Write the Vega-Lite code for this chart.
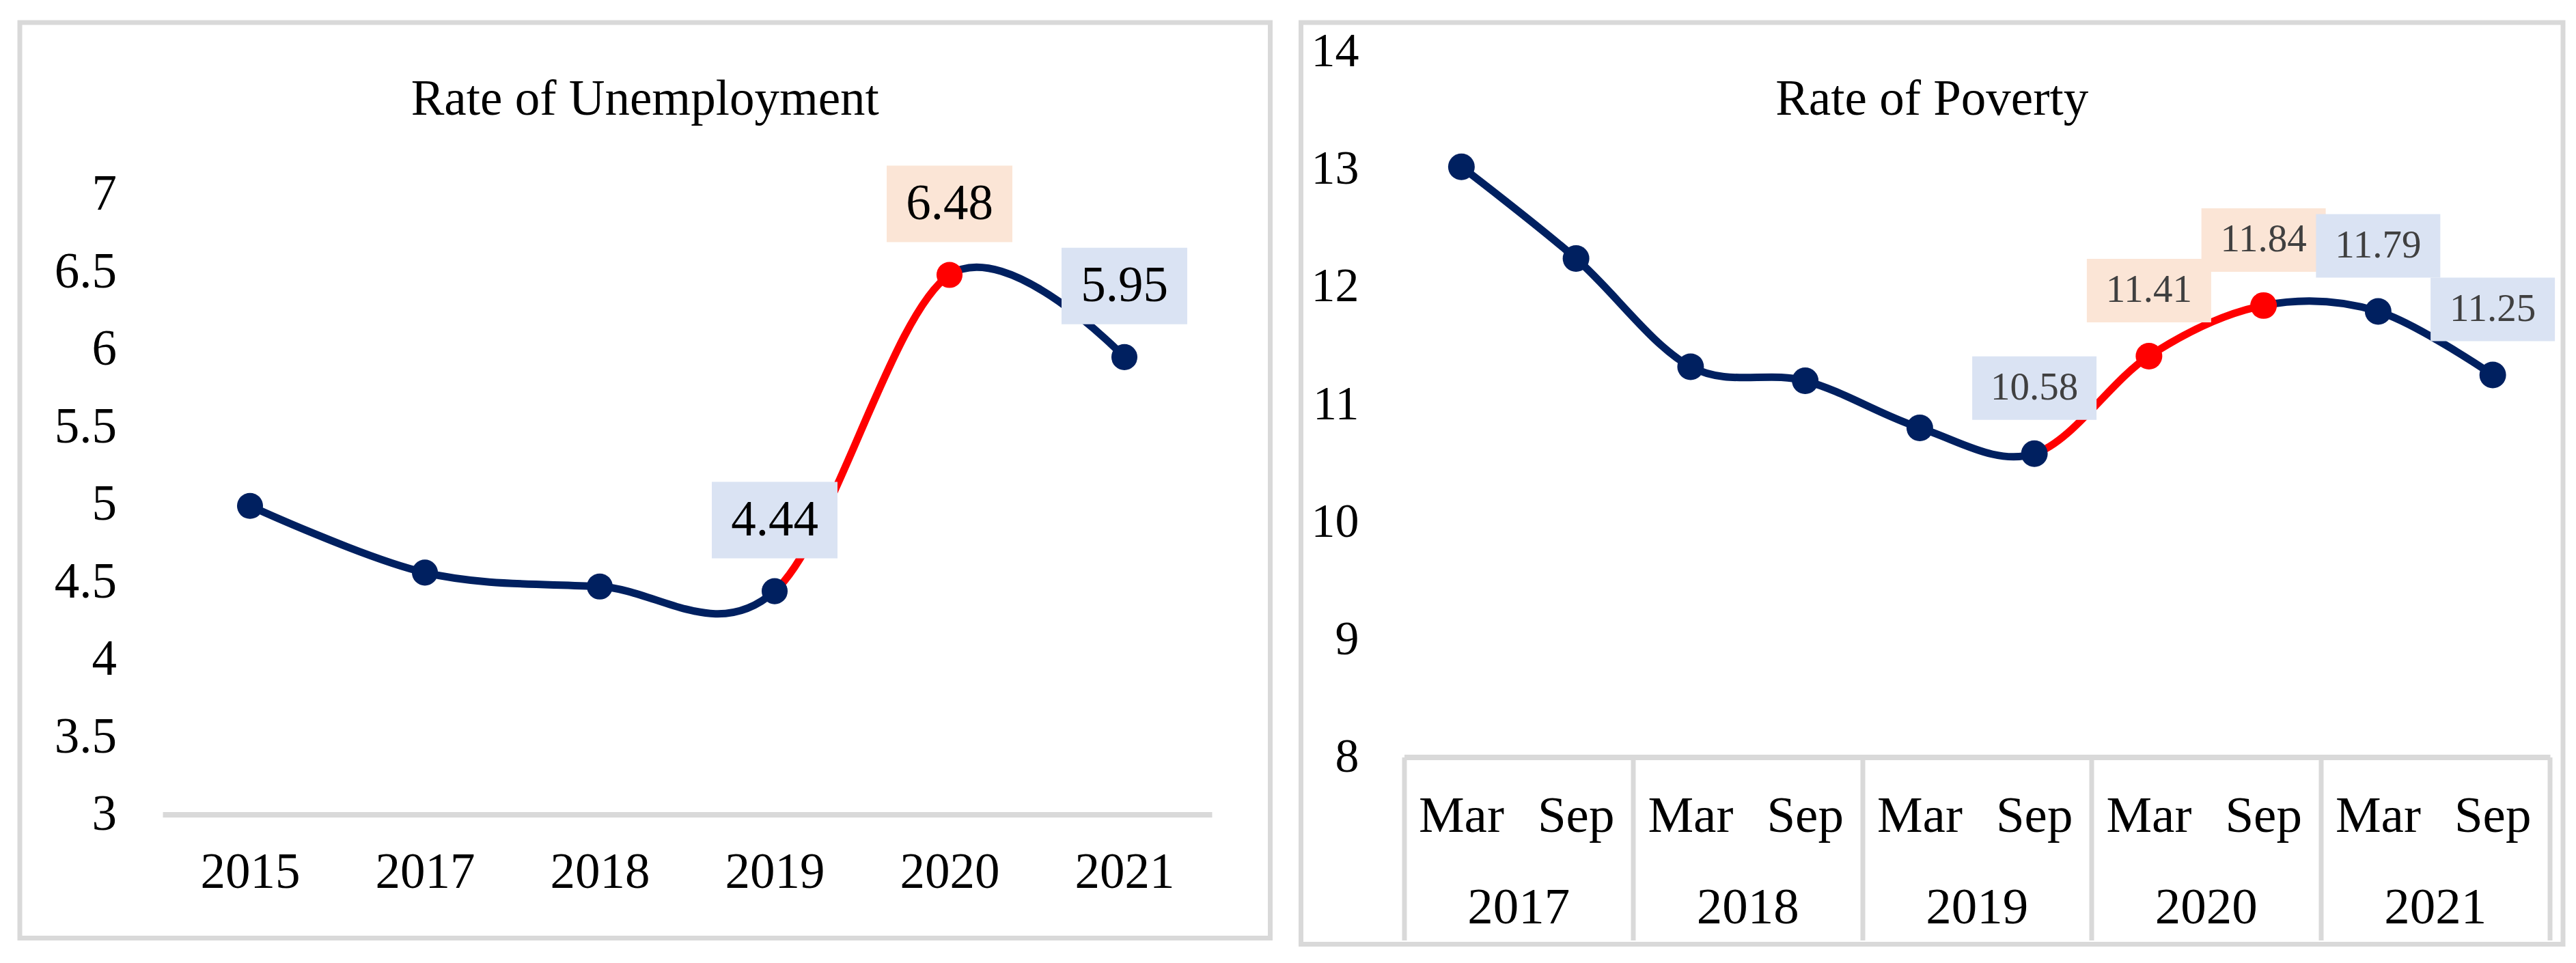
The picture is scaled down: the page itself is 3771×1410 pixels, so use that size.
{
  "$schema": "https://vega.github.io/schema/vega-lite/v6.json",
  "background": "white",
  "padding": {"left": 25, "top": 29, "right": 0, "bottom": 0},
  "spacing": 44.5,
  "bounds": "flush",
  "config": {
    "view": {"stroke": "#D9D9D9", "strokeWidth": 7},
    "font": "Liberation Serif",
    "axis": {"grid": false, "labelFont": "Liberation Serif", "labelColor": "black", "labelFlush": false, "labelOverlap": false, "labelBound": false, "labelLimit": 0}
  },
  "hconcat": [
    {
      "width": 1830.5,
      "height": 1340.5,
      "title": {"text": "Rate of Unemployment", "font": "Liberation Serif", "fontSize": 73, "fontWeight": "normal", "color": "black", "anchor": "middle", "baseline": "alphabetic", "offset": -208, "frame": "group"},
      "data": {"values": [
        {"year": "2015", "rate": 4.99},
        {"year": "2017", "rate": 4.56},
        {"year": "2018", "rate": 4.47},
        {"year": "2019", "rate": 4.44},
        {"year": "2020", "rate": 6.48},
        {"year": "2021", "rate": 5.95}
      ]},
      "encoding": {
        "x": {"field": "year", "type": "ordinal", "scale": {"type": "point", "padding": 0.5, "range": [209, 1745]},
          "axis": {"title": null, "orient": "bottom", "offset": -181, "domainColor": "#D9D9D9", "domainWidth": 8, "ticks": false, "tickSize": 0, "labelPadding": 85, "labelBaseline": "middle", "labelFontSize": 73, "labelAngle": 0}},
        "y": {"field": "rate", "type": "quantitative", "scale": {"domain": [3, 7], "range": [1159.5, 251.5], "nice": false, "zero": false},
          "axis": {"title": null, "offset": -141.5, "domain": false, "ticks": false, "tickSize": 0, "labelPadding": 0, "labelFontSize": 73, "values": [3, 3.5, 4, 4.5, 5, 5.5, 6, 6.5, 7], "labelExpr": "'' + datum.value"}}
      },
      "layer": [
        {"mark": {"type": "line", "interpolate": "cardinal", "tension": 0, "strokeWidth": 11,
          "stroke": {"gradient": "linear", "x1": 0, "y1": 0, "x2": 1, "y2": 0, "stops": [
            {"offset": 0, "color": "#002060"}, {"offset": 0.6, "color": "#002060"},
            {"offset": 0.6, "color": "#FF0000"}, {"offset": 0.8, "color": "#FF0000"},
            {"offset": 0.8, "color": "#002060"}, {"offset": 1, "color": "#002060"}]}}},
        {"mark": {"type": "point", "filled": true, "size": 1450, "opacity": 1},
          "encoding": {"color": {"condition": {"test": "datum.year == '2020'", "value": "#FF0000"}, "value": "#002060"}}},
        {"transform": [{"filter": "datum.year >= '2019'"}],
          "mark": {"type": "point", "shape": "M-1,-0.6087L1,-0.6087L1,0.6087L-1,0.6087Z", "size": 33856, "filled": true, "opacity": 1, "yOffset": -104},
          "encoding": {"color": {"condition": {"test": "datum.year == '2020'", "value": "#FBE5D6"}, "value": "#DAE3F3"}}},
        {"transform": [{"filter": "datum.year >= '2019'"}],
          "mark": {"type": "text", "font": "Liberation Serif", "fontSize": 73, "yOffset": -104, "baseline": "middle", "align": "center", "color": "black"},
          "encoding": {"text": {"field": "rate", "type": "quantitative", "format": ".2f"}}}
      ]
    },
    {
      "width": 1847.5,
      "height": 1349.5,
      "title": {"text": "Rate of Poverty", "font": "Liberation Serif", "fontSize": 73, "fontWeight": "normal", "color": "black", "anchor": "middle", "baseline": "alphabetic", "offset": -208, "frame": "group"},
      "data": {"values": [
        {"period": "Mar 2017", "month": "Mar", "year": 2017, "rate": 13.02},
        {"period": "Sep 2017", "month": "Sep", "year": 2017, "rate": 12.24},
        {"period": "Mar 2018", "month": "Mar", "year": 2018, "rate": 11.32},
        {"period": "Sep 2018", "month": "Sep", "year": 2018, "rate": 11.2},
        {"period": "Mar 2019", "month": "Mar", "year": 2019, "rate": 10.8},
        {"period": "Sep 2019", "month": "Sep", "year": 2019, "rate": 10.58},
        {"period": "Mar 2020", "month": "Mar", "year": 2020, "rate": 11.41},
        {"period": "Sep 2020", "month": "Sep", "year": 2020, "rate": 11.84},
        {"period": "Mar 2021", "month": "Mar", "year": 2021, "rate": 11.79},
        {"period": "Sep 2021", "month": "Sep", "year": 2021, "rate": 11.25}
      ]},
      "resolve": {"axis": {"x": "independent"}},
      "layer": [
        {"mark": {"type": "line", "interpolate": "cardinal", "tension": 0, "strokeWidth": 11,
          "stroke": {"gradient": "linear", "x1": 0, "y1": 0, "x2": 1, "y2": 0, "stops": [
            {"offset": 0, "color": "#002060"}, {"offset": 0.5556, "color": "#002060"},
            {"offset": 0.5556, "color": "#FF0000"}, {"offset": 0.7778, "color": "#FF0000"},
            {"offset": 0.7778, "color": "#002060"}, {"offset": 1, "color": "#002060"}]}},
          "encoding": {
            "x": {"field": "period", "type": "ordinal",
              "scale": {"type": "band", "domain": ["Mar 2017", "Sep 2017", "Mar 2018", "Sep 2018", "Mar 2019", "Sep 2019", "Mar 2020", "Sep 2020", "Mar 2021", "Sep 2021"], "paddingInner": 0, "paddingOuter": 0, "range": [151, 1828.5]},
              "axis": {"title": null, "orient": "bottom", "offset": -274, "domainColor": "#D9D9D9", "domainWidth": 8, "ticks": false, "tickSize": 0, "labelPadding": 86, "labelBaseline": "middle", "labelFontSize": 75, "labelAngle": 0, "labelExpr": "split(datum.value, ' ')[0]"}},
            "y": {"field": "rate", "type": "quantitative", "scale": {"domain": [8, 14], "range": [1075.5, 42.5], "nice": false, "zero": false},
              "axis": {"title": null, "offset": -84.5, "domain": false, "ticks": false, "tickSize": 0, "labelPadding": 0, "labelFontSize": 70, "values": [8, 9, 10, 11, 12, 13, 14], "labelExpr": "'' + datum.value"}}
          }},
        {"mark": {"type": "point", "filled": true, "size": 1520, "opacity": 1},
          "encoding": {
            "x": {"field": "period", "type": "ordinal",
              "scale": {"type": "band", "domain": ["Mar 2017", "Sep 2017", "Mar 2018", "Sep 2018", "Mar 2019", "Sep 2019", "Mar 2020", "Sep 2020", "Mar 2021", "Sep 2021"], "paddingInner": 0, "paddingOuter": 0, "range": [151, 1828.5]},
              "axis": {"title": null, "orient": "bottom", "offset": -274, "domain": false, "labels": false, "ticks": true, "tickSize": 268, "tickWidth": 7, "tickColor": "#D9D9D9", "bandPosition": 0, "values": ["Mar 2017", "Mar 2018", "Mar 2019", "Mar 2020", "Mar 2021"]}},
            "y": {"field": "rate", "type": "quantitative",
              "axis": {"title": null, "offset": -84.5, "domain": false, "ticks": false, "tickSize": 0, "labelPadding": 0, "labelFontSize": 70, "values": [8, 9, 10, 11, 12, 13, 14], "labelExpr": "'' + datum.value"}},
            "color": {"condition": {"test": "datum.year == 2020", "value": "#FF0000"}, "value": "#002060"}
          }},
        {"transform": [{"filter": "datum.year > 2019 || datum.period == 'Sep 2019'"}],
          "mark": {"type": "point", "shape": "M-1,-0.511L1,-0.511L1,0.511L-1,0.511Z", "size": 33124, "filled": true, "opacity": 1, "yOffset": -96},
          "encoding": {
            "x": {"field": "period", "type": "ordinal",
              "scale": {"type": "band", "domain": ["Mar 2017", "Sep 2017", "Mar 2018", "Sep 2018", "Mar 2019", "Sep 2019", "Mar 2020", "Sep 2020", "Mar 2021", "Sep 2021"], "paddingInner": 0, "paddingOuter": 0, "range": [151, 1828.5]},
              "axis": {"title": null, "orient": "bottom", "offset": -274, "domain": false, "labels": false, "ticks": true, "tickSize": 268, "tickWidth": 7, "tickColor": "#D9D9D9", "bandPosition": 1, "values": ["Sep 2021"]}},
            "y": {"field": "rate", "type": "quantitative",
              "axis": {"title": null, "offset": -84.5, "domain": false, "ticks": false, "tickSize": 0, "labelPadding": 0, "labelFontSize": 70, "values": [8, 9, 10, 11, 12, 13, 14], "labelExpr": "'' + datum.value"}},
            "color": {"condition": {"test": "datum.year == 2020", "value": "#FBE5D6"}, "value": "#DAE3F3"}
          }},
        {"transform": [{"filter": "datum.year > 2019 || datum.period == 'Sep 2019'"}],
          "mark": {"type": "text", "font": "Liberation Serif", "fontSize": 57, "yOffset": -96, "baseline": "middle", "align": "center", "color": "#404040"},
          "encoding": {
            "x": {"field": "period", "type": "ordinal",
              "scale": {"type": "band", "domain": ["Mar 2017", "Sep 2017", "Mar 2018", "Sep 2018", "Mar 2019", "Sep 2019", "Mar 2020", "Sep 2020", "Mar 2021", "Sep 2021"], "paddingInner": 0, "paddingOuter": 0, "range": [151, 1828.5]},
              "axis": {"title": null, "orient": "bottom", "offset": -274, "domain": false, "ticks": false, "tickSize": 0, "labelPadding": 220, "labelBaseline": "middle", "labelFontSize": 75, "labelAngle": 0, "labelOffset": 83.875, "values": ["Mar 2017", "Mar 2018", "Mar 2019", "Mar 2020", "Mar 2021"], "labelExpr": "split(datum.value, ' ')[1]"}},
            "y": {"field": "rate", "type": "quantitative",
              "axis": {"title": null, "offset": -84.5, "domain": false, "ticks": false, "tickSize": 0, "labelPadding": 0, "labelFontSize": 70, "values": [8, 9, 10, 11, 12, 13, 14], "labelExpr": "'' + datum.value"}},
            "text": {"field": "rate", "type": "quantitative", "format": ".2f"}
          }}
      ]
    }
  ]
}
